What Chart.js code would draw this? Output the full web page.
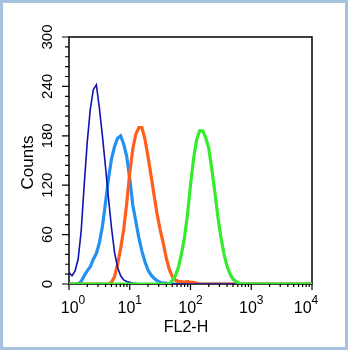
<!DOCTYPE html>
<html>
<head>
<meta charset="utf-8">
<script src="https://cdn.jsdelivr.net/npm/chart.js@4.4.1/dist/chart.umd.min.js"></script>
<style>
  html,body{margin:0;padding:0;background:#fff;}
  #wrap{width:348px;height:350px;}
</style>
</head>
<body>
<div id="wrap"><canvas id="histo" width="348" height="350"></canvas></div>
<script>
// FL2-H channel values (bins, 20 per decade) and counts per channel
var fl2=[1.000,1.122,1.259,1.413,1.585,1.778,1.995,2.239,2.512,2.818,
  3.162,3.548,3.981,4.467,5.012,5.623,6.310,7.079,7.943,8.913,
  10.00,11.22,12.59,14.13,15.85,17.78,19.95,22.39,25.12,28.18,
  31.62,35.48,39.81,44.67,50.12,56.23,63.10,70.79,79.43,89.13,
  100.0,112.2,125.9,141.3,158.5,177.8,199.5,223.9,251.2,281.8,
  316.2,354.8,398.1,446.7,501.2,562.3,631.0,707.9,794.3,891.3,
  1000,10000];

var darkBlue=[14,10,16,30,64,120,172,212,236,242,
  214,180,143,104,68,38,20,10,5,3,
  2,1,1,0,0,0,0,0,0,0,
  0,0,0,0,0,0,0,0,0,0,
  0,0,0,0,0,0,0,0,0,0,
  0,0,0,0,0,0,0,0,0,0,
  0,0];
var lightBlue=[0,0,0,0,3,10,16,21,30,37,
  50,70,98,128,152,167,177,180,170,155,
  128,96,76,56,40,27,17,11,7,4,
  2,1,1,0,0,0,0,0,0,0,
  0,0,0,0,0,0,0,0,0,0,
  0,0,0,0,0,0,0,0,0,0,
  0,0];
var orange=[0,0,0,0,0,0,0,0,0,0,
  0,0,0,0,2,9,24,43,66,98,
  135,164,182,190,190,176,155,132,108,85,
  66,50,32,18,9,5,3,3,2,3,
  2,2,1,0,0,0,0,0,0,0,
  0,0,0,0,0,0,0,0,0,0,
  0,0];
var green=[0,0,0,0,0,0,0,0,0,0,
  0,0,0,0,0,0,0,0,0,0,
  0,0,0,0,0,0,0,0,0,0,
  0,0,0,0,4,10,20,36,56,84,
  120,152,175,186,186,178,165,140,112,82,
  57,37,22,12,6,3,1,0,0,0,
  0,0];

var yTicks=[0,60,120,180,240,300];
var xDecades=[0,1,2,3,4];

function pts(counts){
  var out=[];
  for(var i in counts){ out.push({x:fl2[i],y:counts[i]}); }
  return out;
}

var FONT='"Liberation Sans", Arial, sans-serif';

var decor={
  id:'decor',
  beforeDraw:function(chart){
    var c=chart.ctx;
    c.save();
    c.fillStyle='#fff';
    c.fillRect(0,0,chart.width,chart.height);
    c.strokeStyle='#a7c2df';
    c.lineWidth=3;
    c.strokeRect(1.5,1.5,chart.width-3,chart.height-3);
    c.restore();
  },
  beforeDatasetsDraw:function(chart){
    var c=chart.ctx, a=chart.chartArea;
    var xs=chart.scales.x, ys=chart.scales.y;
    c.save();
    c.strokeStyle='#000';
    c.lineWidth=1.5;
    c.strokeRect(a.left,a.top,a.right-a.left,a.bottom-a.top);
    c.lineWidth=1.2;
    c.beginPath();
    // x ticks (log)
    for(var d=0;d<4;d++){
      for(var m=1;m<10;m++){
        var px=xs.getPixelForValue(m*Math.pow(10,d));
        c.moveTo(px,a.bottom);
        c.lineTo(px,a.bottom+(m==1?6:3));
      }
    }
    var pe=xs.getPixelForValue(10000);
    c.moveTo(pe,a.bottom); c.lineTo(pe,a.bottom+6);
    // y ticks
    for(var v=0;v<=300;v+=12){
      var py=ys.getPixelForValue(v);
      c.moveTo(a.left,py);
      c.lineTo(a.left-(v%60==0?7:4),py);
    }
    c.stroke();
    c.restore();
  },
  afterDraw:function(chart){
    var c=chart.ctx, a=chart.chartArea;
    var xs=chart.scales.x, ys=chart.scales.y;
    c.save();
    c.fillStyle='#000';
    // y labels, rotated
    c.font='15px '+FONT;
    c.textAlign='center';
    c.textBaseline='middle';
    yTicks.forEach(function(v){
      c.save();
      c.translate(48,ys.getPixelForValue(v));
      c.rotate(-Math.PI/2);
      c.fillText(String(v),0,0);
      c.restore();
    });
    c.save();
    c.font='17px '+FONT;
    c.translate(28,(a.top+a.bottom)/2+2);
    c.rotate(-Math.PI/2);
    c.fillText('Counts',0,0);
    c.restore();
    // x labels 10^n
    c.textAlign='left';
    c.textBaseline='alphabetic';
    xDecades.forEach(function(n,k){
      var px=xs.getPixelForValue(Math.pow(10,n));
      c.font='16px '+FONT;
      var wb=c.measureText('10').width;
      c.font='12px '+FONT;
      var we=c.measureText(String(n)).width;
      var x0=px-(wb+we)/2;
      if(k==0) x0+=4;
      if(k==xDecades.length-1) x0-=6;
      c.font='16px '+FONT;
      c.fillText('10',x0,313);
      c.font='12px '+FONT;
      c.fillText(String(n),x0+wb,304);
    });
    c.font='16px '+FONT;
    c.textAlign='center';
    c.fillText('FL2-H',186,332);
    c.restore();
  }
};

new Chart(document.getElementById('histo'),{
  type:'line',
  data:{
    datasets:[
      {label:'green',data:pts(green),borderColor:'#35ec2a',borderWidth:3.2,order:0},
      {label:'darkBlue',data:pts(darkBlue),borderColor:'#1212b0',borderWidth:1.6,order:1},
      {label:'orange',data:pts(orange),borderColor:'#ff5e1c',borderWidth:3.2,order:2},
      {label:'lightBlue',data:pts(lightBlue),borderColor:'#2391f2',borderWidth:3.2,order:3}
    ]
  },
  options:{
    responsive:false,
    animation:false,
    devicePixelRatio:1,
    layout:{padding:{left:0,top:37,right:36,bottom:0}},
    elements:{
      point:{radius:0},
      line:{fill:false,tension:0,borderJoinStyle:'miter'}
    },
    plugins:{legend:{display:false},tooltip:{enabled:false}},
    scales:{
      x:{
        type:'logarithmic',min:1,max:10000,
        ticks:{display:false},grid:{display:false},border:{display:false},
        afterFit:function(s){s.height=66;}
      },
      y:{
        type:'linear',min:0,max:300,
        ticks:{display:false},grid:{display:false},border:{display:false},
        afterFit:function(s){s.width=69;}
      }
    }
  },
  plugins:[decor]
});
</script>
</body>
</html>
